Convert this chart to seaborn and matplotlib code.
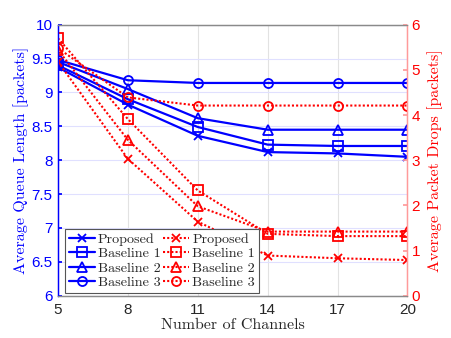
import matplotlib
matplotlib.use("Agg")
import matplotlib.pyplot as plt
import seaborn as sns
import pandas as pd

channels = [5, 8, 11, 14, 17, 20]

queue_proposed = [9.37, 8.82, 8.36, 8.12, 8.10, 8.05]
queue_baseline1 = [9.40, 8.90, 8.49, 8.23, 8.21, 8.21]
queue_baseline2 = [9.45, 9.05, 8.62, 8.45, 8.45, 8.45]
queue_baseline3 = [9.48, 9.18, 9.14, 9.14, 9.14, 9.14]

drops_proposed = [5.18, 3.03, 1.64, 0.89, 0.83, 0.79]
drops_baseline1 = [5.70, 3.91, 2.33, 1.37, 1.32, 1.32]
drops_baseline2 = [5.44, 3.45, 1.98, 1.42, 1.42, 1.42]
drops_baseline3 = [5.48, 4.39, 4.21, 4.21, 4.21, 4.21]

names = ["Proposed", "Baseline 1", "Baseline 2", "Baseline 3"]
markers = ["x", "s", "^", "o"]

sns.set_theme(style="white")
plt.rcParams['font.family'] = ['Liberation Sans', 'DejaVu Sans']

fig = plt.figure(figsize=(4.51, 3.38), dpi=100)
ax = fig.add_axes([0.1286, 0.125, 0.7749, 0.802])
ax2 = ax.twinx()

blue = "#0000ff"
red = "#ff0000"

handles = []
for name, mk, vals in zip(names, markers, [queue_proposed, queue_baseline1, queue_baseline2, queue_baseline3]):
    df = pd.DataFrame({"x": channels, "y": vals})
    sns.lineplot(data=df, x="x", y="y", ax=ax, color=blue, linewidth=1.6,
                 marker=mk, markersize=6.5 if mk != "x" else 5.5, markerfacecolor="none",
                 markeredgecolor=blue, markeredgewidth=1.3, legend=False)
    handles.append(ax.lines[-1])

for name, mk, vals in zip(names, markers, [drops_proposed, drops_baseline1, drops_baseline2, drops_baseline3]):
    df = pd.DataFrame({"x": channels, "y": vals})
    sns.lineplot(data=df, x="x", y="y", ax=ax2, color=red, linewidth=1.5,
                 linestyle=(0, (1, 1)),
                 marker=mk, markersize=6.5 if mk != "x" else 5.5, markerfacecolor="none",
                 markeredgecolor=red, markeredgewidth=1.3, legend=False)
    handles.append(ax2.lines[-1])

ax.set_xlim(5, 20)
ax.set_ylim(6, 10)
ax2.set_ylim(0, 6)
ax.set_xticks(channels)
ax.set_yticks([6, 6.5, 7, 7.5, 8, 8.5, 9, 9.5, 10])
ax.set_yticklabels(["6", "6.5", "7", "7.5", "8", "8.5", "9", "9.5", "10"])
ax2.set_yticks([0, 1, 2, 3, 4, 5, 6])

# grid
ax.xaxis.grid(True, color="#e2e2e2", linewidth=0.8)
ax.yaxis.grid(True, color="#e0e0ff", linewidth=0.8)
ax.set_axisbelow(True)

for sp in ["top", "bottom"]:
    ax.spines[sp].set_color("#8a8a8a")
    ax2.spines[sp].set_color("#8a8a8a")
ax.spines["left"].set_color(blue)
ax2.spines["left"].set_color(blue)
ax2.spines["right"].set_color("#ff9a9a")
ax.spines["right"].set_color("#ff9a9a")
for a in (ax, ax2):
    for sp in a.spines.values():
        sp.set_linewidth(0.9)

ax.tick_params(axis="x", direction="in", labelsize=11, length=3, pad=5,
               colors="#8a8a8a", labelcolor="#262626")
ax.tick_params(axis="y", direction="in", colors=blue, labelsize=11, length=3, pad=4)
ax2.tick_params(axis="y", direction="in", colors="#ff9a9a", labelcolor=red, labelsize=11, length=3, pad=3)

serif = ['cmr10', 'DejaVu Serif']
ax.set_xlabel("Number of Channels", fontsize=11.5, family=serif, color="#262626", labelpad=1)
ax.set_ylabel("Average Queue Length [packets]", fontsize=11.5, family=serif, color=blue, labelpad=2)
ax2.set_ylabel("Average Packet Drops [packets]", fontsize=11.5, family=serif, color=red, labelpad=5)

leg = ax2.legend(handles, names + names, ncol=2, loc="lower left",
                 bbox_to_anchor=(0.012, 0.0), borderaxespad=0.2,
                 prop={"family": serif, "size": 10.2}, frameon=True, fancybox=False,
                 handlelength=1.85, handletextpad=0.2, columnspacing=0.2,
                 labelspacing=0.12, borderpad=0.25)
leg.get_frame().set_edgecolor("#555555")
leg.get_frame().set_linewidth(0.8)
leg.get_frame().set_facecolor("white")
leg.get_frame().set_alpha(1)

fig.savefig("out.png", dpi=100)
